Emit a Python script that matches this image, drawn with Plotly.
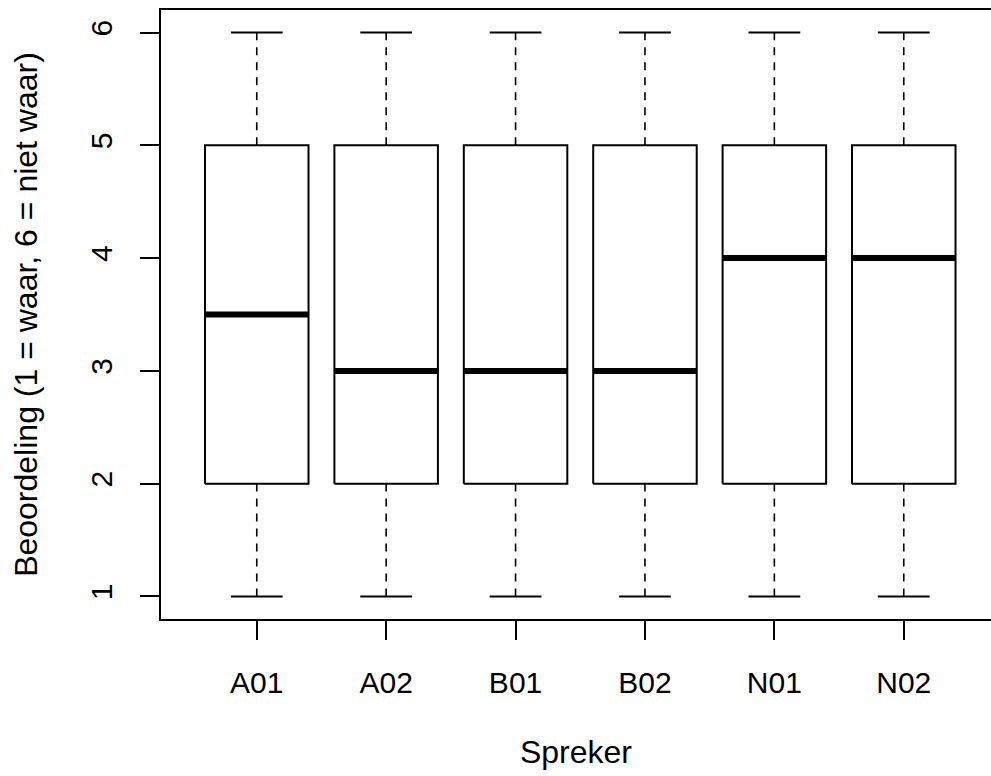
import plotly.graph_objects as go

categories = ["A01", "A02", "B01", "B02", "N01", "N02"]
lower_whisker = [1, 1, 1, 1, 1, 1]
q1 = [2, 2, 2, 2, 2, 2]
median = [3.5, 3, 3, 3, 4, 4]
q3 = [5, 5, 5, 5, 5, 5]
upper_whisker = [6, 6, 6, 6, 6, 6]
y_ticks = [1, 2, 3, 4, 5, 6]

BOX_HALF = 0.4
CAP_HALF = 0.2
FONT = "Liberation Sans"

fig = go.Figure()
positions = list(range(1, len(categories) + 1))

for i, pos in enumerate(positions):
    # whiskers (dashed)
    fig.add_trace(go.Scatter(
        x=[pos, pos, None, pos, pos],
        y=[lower_whisker[i], q1[i], None, q3[i], upper_whisker[i]],
        mode="lines", line=dict(color="black", width=1.6, dash="8px,7px"),
        hoverinfo="skip", showlegend=False))
    # caps
    fig.add_trace(go.Scatter(
        x=[pos - CAP_HALF, pos + CAP_HALF, None, pos - CAP_HALF, pos + CAP_HALF],
        y=[lower_whisker[i], lower_whisker[i], None, upper_whisker[i], upper_whisker[i]],
        mode="lines", line=dict(color="black", width=2),
        hoverinfo="skip", showlegend=False))
    # box
    fig.add_trace(go.Scatter(
        x=[pos - BOX_HALF, pos + BOX_HALF, pos + BOX_HALF, pos - BOX_HALF, pos - BOX_HALF],
        y=[q1[i], q1[i], q3[i], q3[i], q1[i]],
        mode="lines", line=dict(color="black", width=2),
        hoverinfo="skip", showlegend=False))
    # median
    fig.add_trace(go.Scatter(
        x=[pos - BOX_HALF, pos + BOX_HALF],
        y=[median[i], median[i]],
        mode="lines", line=dict(color="black", width=6),
        hoverinfo="skip", showlegend=False))

fig.update_layout(
    width=991, height=776,
    margin=dict(l=161, r=0, t=10, b=157, autoexpand=False),
    paper_bgcolor="white", plot_bgcolor="white",
    font=dict(family=FONT, size=27, color="black"),
    showlegend=False,
)
fig.update_xaxes(
    range=[0.26, 0.26 + 830 / 129.4],
    tickvals=positions, ticktext=categories,
    tickfont=dict(size=30),
    showgrid=False, zeroline=False, automargin=False,
    showline=True, linecolor="black", linewidth=2, mirror=True,
    ticks="outside", ticklen=19, tickwidth=2, tickcolor="black",
    ticklabelstandoff=17,
    title=dict(text="Spreker", standoff=43),
)
fig.update_yaxes(
    range=[0.8, 6.2],
    tickvals=y_ticks, ticktext=[str(v) for v in y_ticks],
    tickfont=dict(size=30),
    tickangle=-90,
    showgrid=False, zeroline=False, automargin=False,
    showline=True, linecolor="black", linewidth=2, mirror=False,
    ticks="outside", ticklen=19, tickwidth=2, tickcolor="black",
    ticklabelstandoff=16,
    title=dict(text="Beoordeling (1 = waar, 6 = niet waar)", standoff=38),
)

fig.write_html(
    "out.html",
    config={"displayModeBar": False},
    post_script="document.body.style.margin='0';document.body.style.overflow='hidden';",
)
